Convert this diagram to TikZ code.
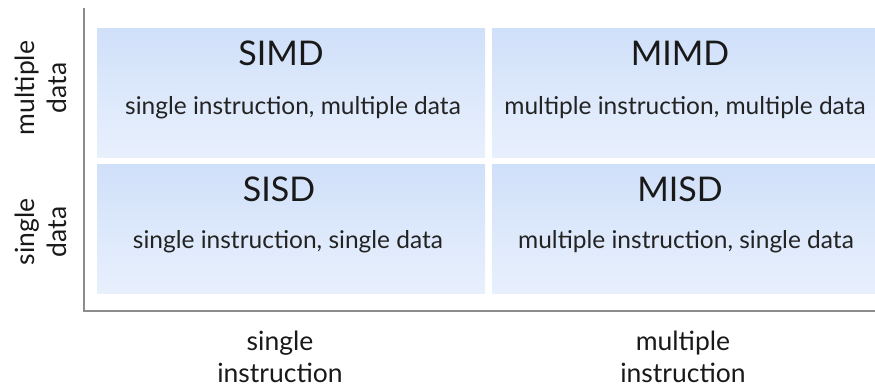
\documentclass[tikz,border=0pt]{standalone}
\usepackage{fontspec}
\setmainfont{Lato}
\begin{document}
\begin{tikzpicture}[x=1pt,y=-1pt,
  cell/.style={draw=none,rectangle,minimum width=#1,minimum height=129pt,
    anchor=north west,inner sep=0pt,
    top color={rgb,255:red,208;green,224;blue,249},
    bottom color={rgb,255:red,232;green,240;blue,253}},
  title/.style={font=\fontsize{34}{36}\selectfont,text={rgb,255:red,25;green,25;blue,25}},
  sub/.style={font=\fontsize{24.5}{26}\selectfont,text={rgb,255:red,35;green,35;blue,35}},
  axislabel/.style={font=\fontsize{26.5}{32}\selectfont,align=center,text={rgb,255:red,25;green,25;blue,25}},
  axis/.style={draw={rgb,255:red,140;green,140;blue,140},line width=1.8pt}]
\useasboundingbox (0,0) rectangle (875,390);
% quadrant cells
\node[cell=388pt] (simd) at (97,28) {};
\node[cell=383pt] (mimd) at (492,28) {};
\node[cell=388pt] (sisd) at (97,164) {};
\node[cell=383pt] (misd) at (492,164) {};
% cell texts
\node[title] (tsimd) at (281,53) {SIMD};
\node[sub]   (ssimd) at (293,108) {single instruction, multiple data};
\node[title] (tmimd) at (680,53) {MIMD};
\node[sub]   (smimd) at (685,108) {multiple instruction, multiple data};
\node[title] (tsisd) at (279,189) {SISD};
\node[sub]   (ssisd) at (288,242) {single instruction, single data};
\node[title] (tmisd) at (680,189) {MISD};
\node[sub]   (smisd) at (686,242) {multiple instruction, single data};
% axes
\coordinate (top) at (84,8);
\coordinate (origin) at (84,311);
\coordinate (right) at (875,311);
\draw[axis] (top) -- (origin) -- (right);
% axis labels
\node[axislabel,rotate=90] (ymul) at (41,88) {multiple\\data};
\node[axislabel,rotate=90] (ysin) at (41,232) {single\\data};
\node[axislabel] (xsin) at (280,357) {single\\instruction};
\node[axislabel] (xmul) at (683,357) {multiple\\instruction};
\end{tikzpicture}
\end{document}
